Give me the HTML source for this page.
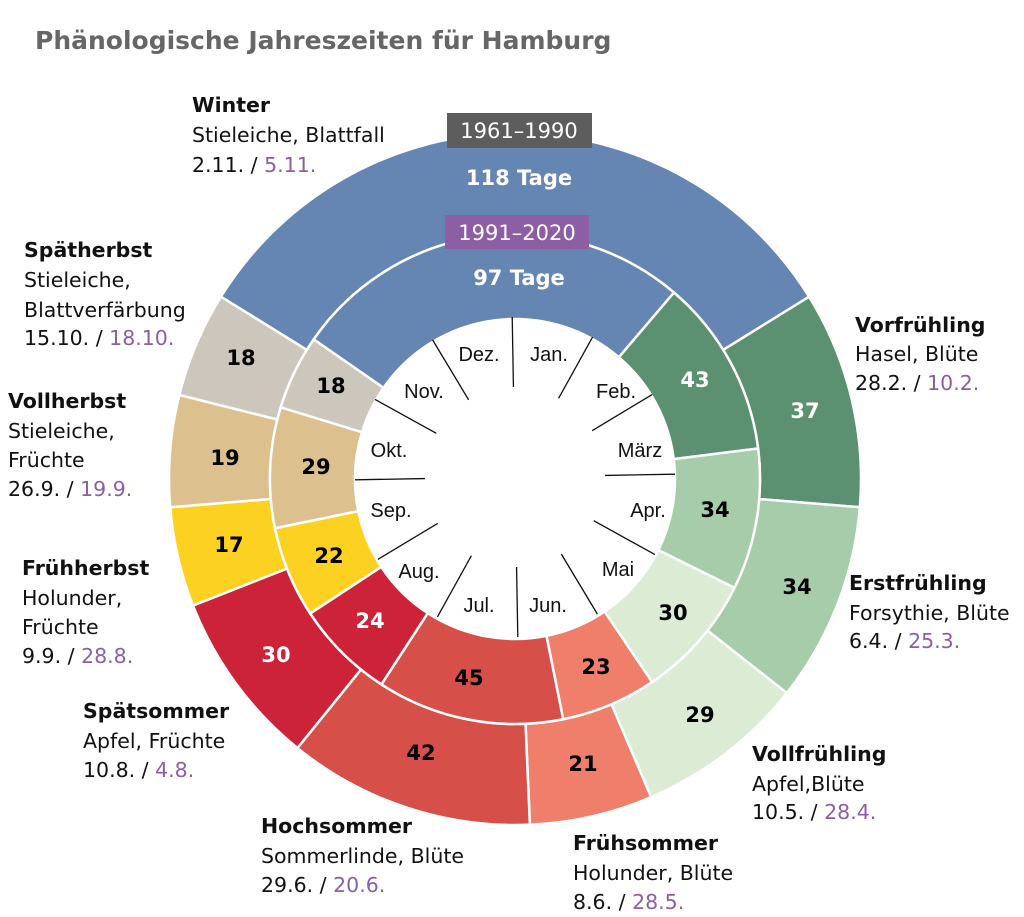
<!DOCTYPE html>
<html><head><meta charset="utf-8"><style>
html,body{margin:0;padding:0;background:#fff;}
svg{display:block}
.l{font-family:"DejaVu Sans",sans-serif;font-size:20.5px;fill:#111}
.b{font-weight:bold}
.p{fill:#8a5ea8}
.n{font-family:"DejaVu Sans",sans-serif;font-size:21px;font-weight:bold;text-anchor:middle;dominant-baseline:central}
.m{font-family:"Liberation Sans",Arial,sans-serif;font-size:20px;text-anchor:middle;dominant-baseline:central;fill:#111}
</style></head><body>
<svg id="s" width="1024" height="917" viewBox="0 0 1024 917" xmlns="http://www.w3.org/2000/svg">
<text x="35" y="49" style="font-family:'DejaVu Sans',sans-serif;font-weight:bold;font-size:25px;fill:#666">Phänologische Jahreszeiten für Hamburg</text>
<g id="arcs"></g>
<g id="months" stroke="#111" stroke-width="1.3"></g>
<rect x="447" y="113" width="145" height="35" fill="#5d5d5d"/>
<text x="519" y="131" class="m" style="fill:#fff;font-family:'DejaVu Sans',sans-serif;font-size:21px">1961–1990</text>
<rect x="445" y="215" width="144" height="34" fill="#8e5ea4"/>
<text x="517" y="233" class="m" style="fill:#fff;font-family:'DejaVu Sans',sans-serif;font-size:21px">1991–2020</text>
<text x="519" y="178" class="n" style="fill:#fff">118 Tage</text>
<text x="519" y="278" class="n" style="fill:#fff">97 Tage</text>
<g>
<text x="805" y="411" class="n" fill="#fff">37</text>
<text x="797" y="587" class="n">34</text>
<text x="700" y="715" class="n">29</text>
<text x="583" y="764" class="n">21</text>
<text x="421" y="753" class="n">42</text>
<text x="276" y="655" class="n" fill="#fff">30</text>
<text x="229" y="545" class="n">17</text>
<text x="225" y="458" class="n">19</text>
<text x="241" y="358" class="n">18</text>
<text x="695" y="380" class="n" fill="#fff">43</text>
<text x="715" y="510" class="n">34</text>
<text x="673" y="613" class="n">30</text>
<text x="596" y="667" class="n">23</text>
<text x="469" y="678" class="n">45</text>
<text x="370" y="621" class="n" fill="#fff">24</text>
<text x="329" y="556" class="n">22</text>
<text x="316" y="467" class="n">29</text>
<text x="331" y="386" class="n">18</text>
</g>
<g>
<text x="479" y="355" class="m">Dez.</text><text x="549" y="355" class="m">Jan.</text>
<text x="616" y="392" class="m">Feb.</text><text x="640" y="451" class="m">März</text>
<text x="648" y="511" class="m">Apr.</text><text x="618" y="570" class="m">Mai</text>
<text x="548" y="606" class="m">Jun.</text><text x="479" y="606" class="m">Jul.</text>
<text x="419" y="572" class="m">Aug.</text><text x="391" y="511" class="m">Sep.</text>
<text x="389" y="451" class="m">Okt.</text><text x="424" y="392" class="m">Nov.</text>
</g>
<g class="l">
<text x="192" y="112" class="l b">Winter</text><text x="192" y="142" class="l">Stieleiche, Blattfall</text><text x="192" y="172" class="l">2.11. / <tspan class="p">5.11.</tspan></text>
<text x="24" y="257" class="l b">Spätherbst</text><text x="24" y="287" class="l">Stieleiche,</text><text x="24" y="317" class="l">Blattverfärbung</text><text x="24" y="345" class="l">15.10. / <tspan class="p">18.10.</tspan></text>
<text x="855" y="332" class="l b">Vorfrühling</text><text x="855" y="361" class="l">Hasel, Blüte</text><text x="855" y="390" class="l">28.2. / <tspan class="p">10.2.</tspan></text>
<text x="8" y="408" class="l b">Vollherbst</text><text x="8" y="438" class="l">Stieleiche,</text><text x="8" y="467" class="l">Früchte</text><text x="8" y="496" class="l">26.9. / <tspan class="p">19.9.</tspan></text>
<text x="849" y="590" class="l b">Erstfrühling</text><text x="849" y="620" class="l">Forsythie, Blüte</text><text x="849" y="648" class="l">6.4. / <tspan class="p">25.3.</tspan></text>
<text x="22" y="575" class="l b">Frühherbst</text><text x="22" y="605" class="l">Holunder,</text><text x="22" y="634" class="l">Früchte</text><text x="22" y="663" class="l">9.9. / <tspan class="p">28.8.</tspan></text>
<text x="83" y="718" class="l b">Spätsommer</text><text x="83" y="748" class="l">Apfel, Früchte</text><text x="83" y="777" class="l">10.8. / <tspan class="p">4.8.</tspan></text>
<text x="752" y="761" class="l b">Vollfrühling</text><text x="752" y="791" class="l">Apfel,Blüte</text><text x="752" y="819" class="l">10.5. / <tspan class="p">28.4.</tspan></text>
<text x="261" y="833" class="l b">Hochsommer</text><text x="261" y="863" class="l">Sommerlinde, Blüte</text><text x="261" y="892" class="l">29.6. / <tspan class="p">20.6.</tspan></text>
<text x="573" y="850" class="l b">Frühsommer</text><text x="573" y="880" class="l">Holunder, Blüte</text><text x="573" y="909" class="l">8.6. / <tspan class="p">28.5.</tspan></text>
</g>
</svg>
<script>
(function(){
var cx=515,cy=479,R0=160,R1=245,R2=346;
var cols=["#6585b3","#5b9070","#a6cca9","#dcebd3","#ef7f6b","#d64f49","#cc2338","#fcd122","#dcc18f","#cdc6bd"];
var inner=[41,84,118,148,171,216,240,262,291,309];
var outer=[59,96,130,159,180,222,252,269,288,306];
var c2=[cols[1],cols[2],cols[3],cols[4],cols[5],cols[6],cols[7],cols[8],cols[9],cols[0]];
function pt(a,r,y){a=a*Math.PI/180;return [cx+r*Math.sin(a),(y||cy)-r*Math.cos(a)];}
function seg(a0,a1,r0,r1,col){
 var p1=pt(a0,r1),p2=pt(a1,r1),p3=pt(a1,r0),p4=pt(a0,r0);var lg=(a1-a0)>180?1:0;
 return '<path d="M'+p1+' A'+r1+','+r1+' 0 '+lg+' 1 '+p2+' L'+p3+' A'+r0+','+r0+' 0 '+lg+' 0 '+p4+' Z" fill="'+col+'" stroke="#fff" stroke-width="2.5"/>';
}
var h='';
function ring(st,r0,r1){for(var i=0;i<10;i++){var a0=st[i]/365*360,a1=(i<9?st[i+1]:st[0]+365)/365*360;h+=seg(a0,a1,r0,r1,c2[i]);}}
ring(outer,R1,R2);ring(inner,R0,R1);
document.getElementById('arcs').innerHTML=h;
var m='';for(var k=0;k<12;k++){var a=k*30-1,p=pt(a,90,477),q=pt(a,160,477);m+='<line x1="'+p[0]+'" y1="'+p[1]+'" x2="'+q[0]+'" y2="'+q[1]+'"/>';}
document.getElementById('months').innerHTML=m;
})();
</script>
</body></html>
